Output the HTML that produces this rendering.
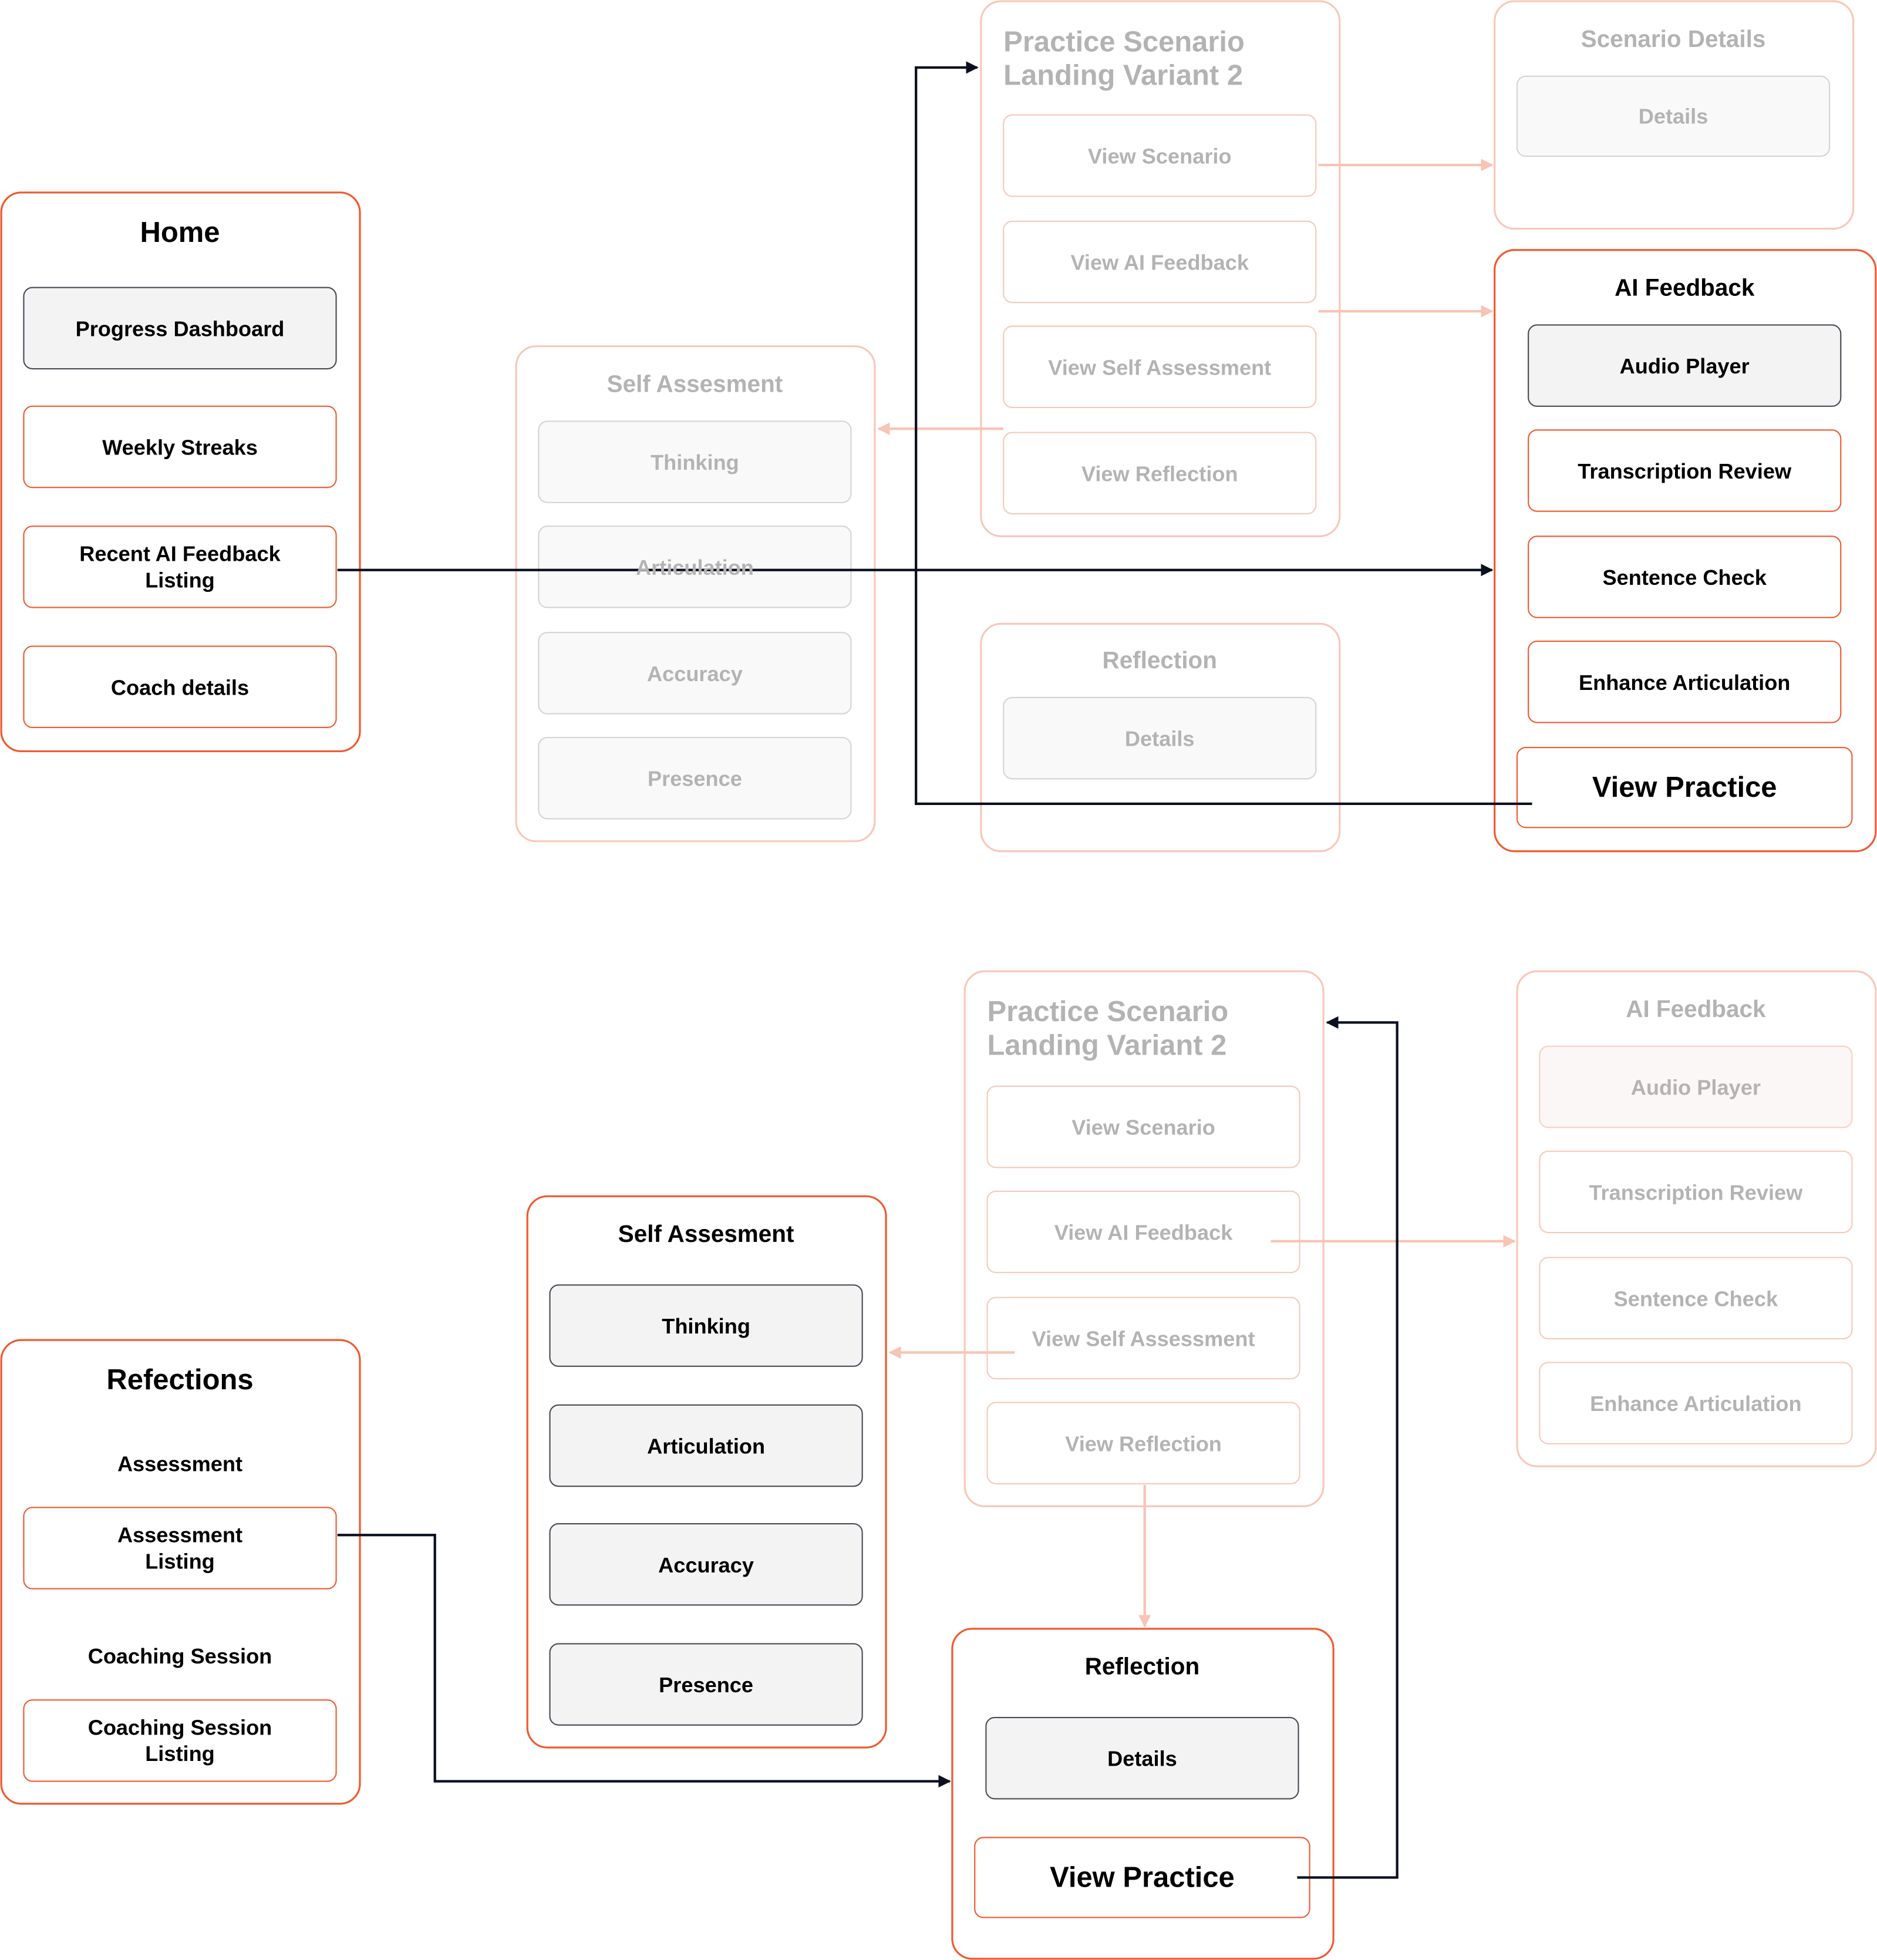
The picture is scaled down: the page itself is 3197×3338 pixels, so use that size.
<!DOCTYPE html>
<html><head><meta charset="utf-8"><style>
html,body{margin:0;padding:0;background:#fff;}
svg{display:block;}
text{font-family:"Liberation Sans",sans-serif;font-weight:bold;}
</style></head><body>
<svg width="3197" height="3338" viewBox="0 0 1502 1568" preserveAspectRatio="none" xmlns="http://www.w3.org/2000/svg">
<defs>
<marker id="ad" markerWidth="10" markerHeight="10" refX="9" refY="5" orient="auto" markerUnits="userSpaceOnUse"><path d="M0,0 L10,5 L0,10 z" fill="#0b1020"/></marker>
<marker id="af" markerWidth="10" markerHeight="10" refX="9" refY="5" orient="auto" markerUnits="userSpaceOnUse"><path d="M0,0 L10,5 L0,10 z" fill="#f8c4b4"/></marker>
</defs>
<g fill="#fff">
<!-- faded frames -->
<g stroke="#f8c8b8" stroke-width="1.5">
<rect x="413" y="277" width="287" height="396" rx="16"/>
<rect x="785" y="1" width="287" height="428" rx="16"/>
<rect x="1196" y="1" width="287" height="182" rx="16"/>
<rect x="785" y="499" width="287" height="182" rx="16"/>
<rect x="772" y="777" width="287" height="428" rx="16"/>
<rect x="1214" y="777" width="287" height="396" rx="16"/>
</g>
<!-- active frames -->
<g stroke="#f05a2f" stroke-width="1.5">
<rect x="1" y="154" width="287" height="447" rx="16"/>
<rect x="1196" y="200" width="305" height="481" rx="16"/>
<rect x="422" y="957" width="287" height="441" rx="16"/>
<rect x="1" y="1072" width="287" height="371" rx="16"/>
<rect x="762" y="1303" width="305" height="264" rx="16"/>
</g>
<!-- faded gray buttons -->
<g fill="#f9f9f9" stroke="#d4d4d4" stroke-width="1">
<rect x="431" y="337" width="250" height="65" rx="7"/>
<rect x="431" y="421" width="250" height="65" rx="7"/>
<rect x="431" y="506" width="250" height="65" rx="7"/>
<rect x="431" y="590" width="250" height="65" rx="7"/>
<rect x="1214" y="61" width="250" height="64" rx="7"/>
<rect x="803" y="558" width="250" height="65" rx="7"/>
</g>
<g fill="#fbf7f6" stroke="#f8d0c2" stroke-width="1">
<rect x="1232" y="837" width="250" height="65" rx="7"/>
</g>
<!-- faded white buttons -->
<g stroke="#f8c8b8" stroke-width="1">
<rect x="803" y="92" width="250" height="65" rx="7"/>
<rect x="803" y="177" width="250" height="65" rx="7"/>
<rect x="803" y="261" width="250" height="65" rx="7"/>
<rect x="803" y="346" width="250" height="65" rx="7"/>
<rect x="790" y="869" width="250" height="65" rx="7"/>
<rect x="790" y="953" width="250" height="65" rx="7"/>
<rect x="790" y="1038" width="250" height="65" rx="7"/>
<rect x="790" y="1122" width="250" height="65" rx="7"/>
<rect x="1232" y="921" width="250" height="65" rx="7"/>
<rect x="1232" y="1006" width="250" height="65" rx="7"/>
<rect x="1232" y="1090" width="250" height="65" rx="7"/>
</g>
<!-- active gray buttons -->
<g fill="#f3f3f3" stroke="#4a4a55" stroke-width="1">
<rect x="19" y="230" width="250" height="65" rx="7"/>
<rect x="1223" y="260" width="250" height="65" rx="7"/>
<rect x="440" y="1028" width="250" height="65" rx="7"/>
<rect x="440" y="1124" width="250" height="65" rx="7"/>
<rect x="440" y="1219" width="250" height="65" rx="7"/>
<rect x="440" y="1315" width="250" height="65" rx="7"/>
<rect x="789" y="1374" width="250" height="65" rx="7"/>
</g>
<!-- active white buttons -->
<g stroke="#f05a2f" stroke-width="1">
<rect x="19" y="325" width="250" height="65" rx="7"/>
<rect x="19" y="421" width="250" height="65" rx="7"/>
<rect x="19" y="517" width="250" height="65" rx="7"/>
<rect x="1223" y="344" width="250" height="65" rx="7"/>
<rect x="1223" y="429" width="250" height="65" rx="7"/>
<rect x="1223" y="513" width="250" height="65" rx="7"/>
<rect x="1214" y="598" width="268" height="64" rx="7"/>
<rect x="19" y="1206" width="250" height="65" rx="7"/>
<rect x="19" y="1360" width="250" height="65" rx="7"/>
<rect x="780" y="1470" width="268" height="64" rx="7"/>
</g>
</g>
<!-- connectors -->
<g fill="none" stroke-width="2">
<g stroke="#f8c4b4">
<path d="M1055 132 H1194" marker-end="url(#af)"/>
<path d="M1055 249 H1194" marker-end="url(#af)"/>
<path d="M803 343 H703" marker-end="url(#af)"/>
<path d="M1017 993 H1212" marker-end="url(#af)"/>
<path d="M812 1082 H712" marker-end="url(#af)"/>
<path d="M916 1188 V1301" marker-end="url(#af)"/>
</g>
<g stroke="#0b1020">
<path d="M270 456 H1194" marker-end="url(#ad)"/>
<path d="M1226 643 H733 V54 H782" marker-end="url(#ad)"/>
<path d="M270 1228 H348 V1425 H760" marker-end="url(#ad)"/>
<path d="M1038 1502 H1118 V818 H1062" marker-end="url(#ad)"/>
</g>
</g>
<!-- faded text -->
<g fill="#b3b3b3" font-size="17" text-anchor="middle" dominant-baseline="central">
<text x="556" y="307" font-size="19">Self Assesment</text>
<text x="556" y="370">Thinking</text>
<text x="556" y="454">Articulation</text>
<text x="556" y="539">Accuracy</text>
<text x="556" y="623">Presence</text>
<text x="928" y="125">View Scenario</text>
<text x="928" y="210">View AI Feedback</text>
<text x="928" y="294">View Self Assessment</text>
<text x="928" y="379">View Reflection</text>
<text x="1339" y="31" font-size="19">Scenario Details</text>
<text x="1339" y="93">Details</text>
<text x="928" y="528" font-size="19">Reflection</text>
<text x="928" y="591">Details</text>
<text x="915" y="902">View Scenario</text>
<text x="915" y="986">View AI Feedback</text>
<text x="915" y="1071">View Self Assessment</text>
<text x="915" y="1155">View Reflection</text>
<text x="1357" y="807" font-size="19">AI Feedback</text>
<text x="1357" y="870">Audio Player</text>
<text x="1357" y="954">Transcription Review</text>
<text x="1357" y="1039">Sentence Check</text>
<text x="1357" y="1123">Enhance Articulation</text>
</g>
<g fill="#b3b3b3" font-size="23">
<text x="803" y="41">Practice Scenario</text>
<text x="803" y="68">Landing Variant 2</text>
<text x="790" y="817">Practice Scenario</text>
<text x="790" y="844">Landing Variant 2</text>
</g>
<!-- active text -->
<g fill="#000" font-size="17" text-anchor="middle" dominant-baseline="central">
<text x="144" y="186" font-size="23">Home</text>
<text x="144" y="263">Progress Dashboard</text>
<text x="144" y="358">Weekly Streaks</text>
<text x="144" y="443">Recent AI Feedback</text>
<text x="144" y="464">Listing</text>
<text x="144" y="550">Coach details</text>
<text x="1348" y="230" font-size="19">AI Feedback</text>
<text x="1348" y="293">Audio Player</text>
<text x="1348" y="377">Transcription Review</text>
<text x="1348" y="462">Sentence Check</text>
<text x="1348" y="546">Enhance Articulation</text>
<text x="1348" y="630" font-size="23">View Practice</text>
<text x="565" y="987" font-size="19">Self Assesment</text>
<text x="565" y="1061">Thinking</text>
<text x="565" y="1157">Articulation</text>
<text x="565" y="1252">Accuracy</text>
<text x="565" y="1348">Presence</text>
<text x="144" y="1104" font-size="23">Refections</text>
<text x="144" y="1171">Assessment</text>
<text x="144" y="1228">Assessment</text>
<text x="144" y="1249">Listing</text>
<text x="144" y="1325">Coaching Session</text>
<text x="144" y="1382">Coaching Session</text>
<text x="144" y="1403">Listing</text>
<text x="914" y="1333" font-size="19">Reflection</text>
<text x="914" y="1407">Details</text>
<text x="914" y="1502" font-size="23">View Practice</text>
</g>
</svg>
</body></html>
